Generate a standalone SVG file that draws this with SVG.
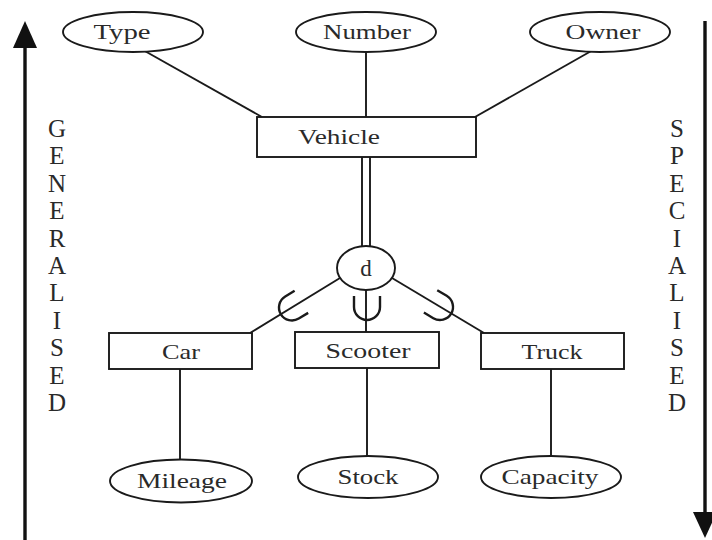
<svg xmlns="http://www.w3.org/2000/svg" width="712" height="540" viewBox="0 0 712 540">
<style>
.shape{fill:#fff;stroke:#1a1a1a;stroke-width:1.9}
.ln{fill:none;stroke:#1a1a1a;stroke-width:1.9}
.u{fill:none;stroke:#1a1a1a;stroke-width:2.4}
.t{font-family:"Liberation Serif","Times New Roman",serif;font-size:21px;fill:#2a2a2a;text-anchor:middle}
.side{font-family:"Liberation Serif","Times New Roman",serif;font-size:25px;fill:#2a2a2a;text-anchor:middle}
.arrow{stroke:#111;stroke-width:3.4;fill:none}
</style>
<defs>
<path id="usym" d="M -13,-11 V 0 A 13 13 0 0 0 13 0 V -11"/>
</defs>
<rect width="712" height="540" fill="#fff"/>

<g id="axis-generalised">
<line class="arrow" x1="25" y1="540" x2="25" y2="44"/>
<polygon points="25,21 13,48 37,48" fill="#111"/>
<text class="side" x="57"><tspan x="57" y="137">G</tspan><tspan x="57" y="164.4">E</tspan><tspan x="57" y="191.8">N</tspan><tspan x="57" y="219.2">E</tspan><tspan x="57" y="246.6">R</tspan><tspan x="57" y="274">A</tspan><tspan x="57" y="301.4">L</tspan><tspan x="57" y="328.8">I</tspan><tspan x="57" y="356.2">S</tspan><tspan x="57" y="383.6">E</tspan><tspan x="57" y="411">D</tspan></text>
</g>

<g id="axis-specialised">
<line class="arrow" x1="705" y1="21" x2="705" y2="516"/>
<polygon points="705,538 693,512 717,512" fill="#111"/>
<text class="side" x="677"><tspan x="677" y="137">S</tspan><tspan x="677" y="164.4">P</tspan><tspan x="677" y="191.8">E</tspan><tspan x="677" y="219.2">C</tspan><tspan x="677" y="246.6">I</tspan><tspan x="677" y="274">A</tspan><tspan x="677" y="301.4">L</tspan><tspan x="677" y="328.8">I</tspan><tspan x="677" y="356.2">S</tspan><tspan x="677" y="383.6">E</tspan><tspan x="677" y="411">D</tspan></text>
</g>

<g id="connectors">
<line class="ln" x1="143" y1="50" x2="262" y2="117"/>
<line class="ln" x1="366" y1="52" x2="366" y2="117"/>
<line class="ln" x1="593" y1="50" x2="475" y2="117"/>
<line class="ln" x1="362" y1="157" x2="362" y2="247"/>
<line class="ln" x1="370" y1="157" x2="370" y2="247"/>
<line class="ln" x1="340" y1="278" x2="250" y2="333"/>
<line class="ln" x1="366" y1="290" x2="366" y2="332"/>
<line class="ln" x1="392" y1="278" x2="484" y2="333"/>
<line class="ln" x1="180" y1="369" x2="180" y2="460"/>
<line class="ln" x1="367" y1="367" x2="367" y2="456"/>
<line class="ln" x1="551" y1="369" x2="551" y2="456"/>
<use href="#usym" class="u" transform="translate(292,307.5) rotate(58.6)"/>
<use href="#usym" class="u" transform="translate(367,307)"/>
<use href="#usym" class="u" transform="translate(440,307) rotate(-59.1)"/>
</g>

<g id="type">
<ellipse class="shape" cx="133" cy="32" rx="70" ry="20"/>
<text class="t" x="122" y="39" textLength="57" lengthAdjust="spacingAndGlyphs">Type</text>
</g>
<g id="number">
<ellipse class="shape" cx="366" cy="32" rx="70" ry="20"/>
<text class="t" x="367" y="39" textLength="88" lengthAdjust="spacingAndGlyphs">Number</text>
</g>
<g id="owner">
<ellipse class="shape" cx="600" cy="32" rx="70" ry="20"/>
<text class="t" x="603" y="39" textLength="75" lengthAdjust="spacingAndGlyphs">Owner</text>
</g>
<g id="vehicle">
<rect class="shape" x="257" y="117" width="219" height="40"/>
<text class="t" x="339" y="144" textLength="82" lengthAdjust="spacingAndGlyphs">Vehicle</text>
</g>
<g id="disjoint">
<ellipse class="shape" cx="366" cy="268" rx="29" ry="22"/>
<text class="t" x="366" y="276" style="font-size:23px">d</text>
</g>
<g id="car">
<rect class="shape" x="109" y="333" width="143" height="36"/>
<text class="t" x="181" y="359" textLength="38" lengthAdjust="spacingAndGlyphs">Car</text>
</g>
<g id="scooter">
<rect class="shape" x="295" y="332" width="144" height="36"/>
<text class="t" x="368" y="358" textLength="85" lengthAdjust="spacingAndGlyphs">Scooter</text>
</g>
<g id="truck">
<rect class="shape" x="481" y="333" width="143" height="36"/>
<text class="t" x="552" y="359" textLength="61" lengthAdjust="spacingAndGlyphs">Truck</text>
</g>
<g id="mileage">
<ellipse class="shape" cx="181" cy="481" rx="71" ry="21.5"/>
<text class="t" x="182" y="488" textLength="90" lengthAdjust="spacingAndGlyphs">Mileage</text>
</g>
<g id="stock">
<ellipse class="shape" cx="368" cy="477" rx="70" ry="21"/>
<text class="t" x="368" y="484" textLength="61" lengthAdjust="spacingAndGlyphs">Stock</text>
</g>
<g id="capacity">
<ellipse class="shape" cx="551" cy="477" rx="70" ry="21"/>
<text class="t" x="550" y="484" textLength="97" lengthAdjust="spacingAndGlyphs">Capacity</text>
</g>
</svg>
